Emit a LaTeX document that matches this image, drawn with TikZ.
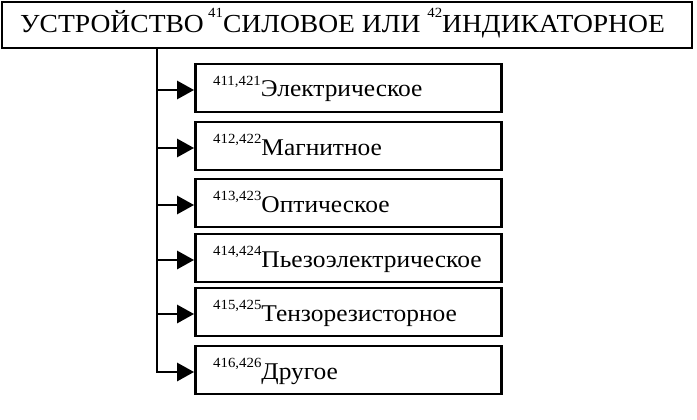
\documentclass[tikz,border=0pt]{standalone}
\usepackage{fontspec}
\setmainfont{Liberation Serif}[FakeStretch=1.06]
\usetikzlibrary{arrows.meta}
\newcommand{\sdx}[2][0.46em]{\raisebox{#1}{\fontsize{14}{14}\selectfont #2}}
\begin{document}
\begin{tikzpicture}[x=1pt,y=-1pt,
  frame/.style={draw=black,line width=2.8pt},
  subbox/.style={frame,minimum width=306pt,minimum height=48pt,inner sep=0pt},
  subtxt/.style={anchor=base west,font=\fontsize{24}{24}\selectfont,inner sep=0pt},
  conn/.style={line width=2.8pt,-{Triangle[length=17pt,width=18pt]}}]
\useasboundingbox (0,0) rectangle (697,420);
\node[frame,minimum width=690pt,minimum height=46pt,inner sep=0pt] (top) at (347,25) {};
\node[anchor=base west,inner sep=0pt,font=\fontsize{26}{26}\selectfont] (toptxt) at (20,33)
  {УСТРОЙСТВО\,\sdx[0.58em]{41}СИЛОВОЕ ИЛИ \sdx[0.58em]{42}ИНДИКАТОРНОЕ};
\coordinate (trunk) at (157,48);
\coordinate (end) at (157,373);
\draw[line width=2.8pt] (trunk) -- (end);
\foreach \i/\y/\s/\t in {1/88/{411,421}/Электрическое,2/146/{412,422}/Магнитное,3/203/{413,423}/Оптическое,4/258/{414,424}/Пьезоэлектрическое,5/312/{415,425}/Тензорезисторное,6/370/{416,426}/Другое}{
  \node[subbox] (b\i) at (348.5,\y) {};
  \node[subtxt] (t\i) at (213,\y+9) {\sdx{\s}\t};
  \coordinate (j\i) at (157,\y+2);
  \draw[conn] (j\i) -- (j\i -| b\i.west);
}
\end{tikzpicture}
\end{document}
